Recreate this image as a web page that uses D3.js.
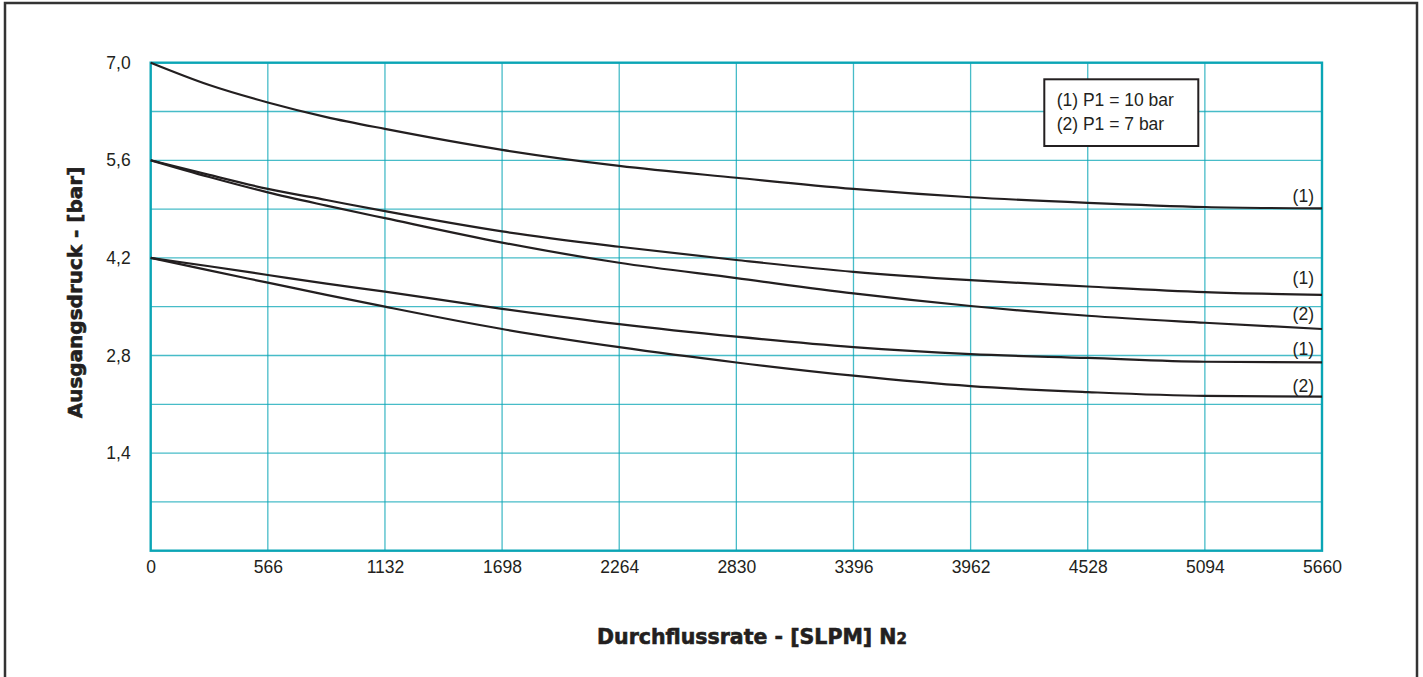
<!DOCTYPE html>
<html>
<head>
<meta charset="utf-8">
<script src="https://cdn.jsdelivr.net/npm/d3@7"></script>
<style>
  html, body { margin: 0; padding: 0; background: #fff; }
  svg { display: block; }
</style>
</head>
<body>
<svg id="chart"></svg>
<script>
// flow values (SLPM N2) where the curves were read
var flow = [0, 283, 566, 849, 1132, 1698, 2264, 2830, 3396, 3962, 4528, 5094, 5660];
// outlet pressure curves, bar
var curveA = [7.0, 6.68, 6.43, 6.22, 6.05, 5.75, 5.52, 5.35, 5.19, 5.07, 4.99, 4.93, 4.91];
var curveB = [5.6, 5.39, 5.19, 5.03, 4.87, 4.58, 4.36, 4.17, 4.00, 3.88, 3.79, 3.71, 3.67];
var curveC = [5.6, 5.36, 5.14, 4.95, 4.77, 4.42, 4.13, 3.91, 3.69, 3.51, 3.37, 3.27, 3.18];
var curveD = [4.2, 4.08, 3.955, 3.83, 3.715, 3.47, 3.25, 3.07, 2.92, 2.82, 2.765, 2.71, 2.70];
var curveE = [4.2, 4.02, 3.845, 3.67, 3.50, 3.18, 2.92, 2.70, 2.51, 2.36, 2.275, 2.22, 2.21];
var curveLabels = ["(1)", "(1)", "(2)", "(1)", "(2)"];

var xTicks = [0, 566, 1132, 1698, 2264, 2830, 3396, 3962, 4528, 5094, 5660];
var yTicks = [1.4, 2.8, 4.2, 5.6, 7.0];
var yGrid = [0.7, 1.4, 2.1, 2.8, 3.5, 4.2, 4.9, 5.6, 6.3];
var legendLines = ["(1) P1 = 10 bar", "(2) P1 = 7 bar"];

var width = 1423, height = 677;
var marginLeft = 150.7, marginRight = 101, marginTop = 62.7, marginBottom = 126.3;
var teal = "#0aa5b5";
var ink = "#231f20";
var font = "'Liberation Sans', Arial, sans-serif";
// vertical shift of each end label above its curve
var labelDy = [-6, -11, -9, -7, -5];

var svg = d3.select("#chart")
    .attr("width", width)
    .attr("height", height)
    .attr("viewBox", [0, 0, width, height]);

// outer frame
svg.append("rect")
    .attr("x", 5).attr("y", 3)
    .attr("width", 1412).attr("height", 700)
    .attr("fill", "none")
    .attr("stroke", "#333")
    .attr("stroke-width", 2.5);

var x = d3.scaleLinear([0, 5660], [marginLeft, width - marginRight]);
var y = d3.scaleLinear([0, 7], [height - marginBottom, marginTop]);

// grid
svg.append("g")
    .selectAll("line")
    .data(xTicks.slice(1, -1))
    .join("line")
      .attr("x1", d => x(d)).attr("x2", d => x(d))
      .attr("y1", y(0)).attr("y2", y(7))
      .attr("stroke", teal).attr("stroke-opacity", 0.75)
      .attr("stroke-width", 1.3);

svg.append("g")
    .selectAll("line")
    .data(yGrid)
    .join("line")
      .attr("x1", x(0)).attr("x2", x(5660))
      .attr("y1", d => y(d)).attr("y2", d => y(d))
      .attr("stroke", teal).attr("stroke-opacity", 0.75)
      .attr("stroke-width", 1.3);

// plot frame
svg.append("rect")
    .attr("x", x(0)).attr("y", y(7))
    .attr("width", x(5660) - x(0))
    .attr("height", y(0) - y(7))
    .attr("fill", "none")
    .attr("stroke", teal)
    .attr("stroke-width", 2.4);

// axes (labels only)
var xAxis = d3.axisBottom(x).tickValues(xTicks).tickSize(0).tickPadding(10)
    .tickFormat(d => String(d));
svg.append("g")
    .attr("transform", `translate(0,${y(0)})`)
    .call(xAxis)
    .call(g => g.select(".domain").remove())
    .call(g => g.selectAll("text")
        .attr("font-family", font)
        .attr("font-size", 17.5)
        .attr("fill", ink));

var yAxis = d3.axisLeft(y).tickValues(yTicks).tickSize(0).tickPadding(20)
    .tickFormat(d => d3.format(".1f")(d).replace(".", ","));
svg.append("g")
    .attr("transform", `translate(${x(0)},0)`)
    .call(yAxis)
    .call(g => g.select(".domain").remove())
    .call(g => g.selectAll("text")
        .attr("font-family", font)
        .attr("font-size", 17.5)
        .attr("fill", ink));

// curves
var series = [curveA, curveB, curveC, curveD, curveE];
var line = d3.line()
    .x((d, i) => x(flow[i]))
    .y(d => y(d))
    .curve(d3.curveMonotoneX);

svg.append("g")
    .selectAll("path")
    .data(series)
    .join("path")
      .attr("d", line)
      .attr("fill", "none")
      .attr("stroke", ink)
      .attr("stroke-width", 2.2);

svg.append("g")
    .selectAll("text")
    .data(series)
    .join("text")
      .attr("x", x(5660) - 8)
      .attr("y", (d, i) => y(d[d.length - 1]) + labelDy[i])
      .attr("text-anchor", "end")
      .attr("font-family", font)
      .attr("font-size", 17.5)
      .attr("fill", ink)
      .text((d, i) => curveLabels[i]);

// legend box
var legend = svg.append("g");
legend.append("rect")
    .attr("x", 1044.3).attr("y", 79.3)
    .attr("width", 154).attr("height", 66.7)
    .attr("fill", "#fff")
    .attr("stroke", ink)
    .attr("stroke-width", 2);
legend.selectAll("text")
    .data(legendLines)
    .join("text")
      .attr("x", 1056.7)
      .attr("y", (d, i) => 106 + i * 24)
      .attr("font-family", font)
      .attr("font-size", 17.5)
      .attr("fill", ink)
      .text(d => d);

// axis titles
svg.append("text")
    .attr("transform", "translate(82,292.5) rotate(-90)")
    .attr("text-anchor", "middle")
    .attr("font-family", "'DejaVu Sans', sans-serif")
    .attr("font-weight", "bold")
    .attr("font-size", 20)
    .attr("fill", ink)
    .attr("stroke", ink)
    .attr("stroke-width", 0.6)
    .text("Ausgangsdruck - [bar]");

var xt = svg.append("text")
    .attr("x", 752).attr("y", 644)
    .attr("text-anchor", "middle")
    .attr("font-family", "'DejaVu Sans', sans-serif")
    .attr("font-weight", "bold")
    .attr("font-size", 20.5)
    .attr("fill", ink)
    .attr("stroke", ink)
    .attr("stroke-width", 0.6);
xt.append("tspan").text("Durchflussrate - [SLPM] N");
xt.append("tspan").attr("font-size", 15).text("2");
</script>
</body>
</html>
